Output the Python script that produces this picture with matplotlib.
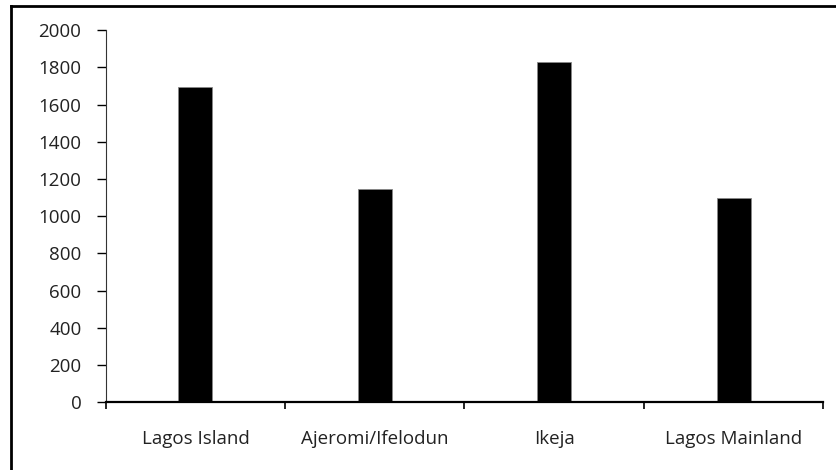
import matplotlib
matplotlib.use('Agg')
import matplotlib.pyplot as plt
from matplotlib.lines import Line2D
import numpy as np

districts = ['Lagos Island', 'Ajeromi/Ifelodun', 'Ikeja', 'Lagos Mainland']
counts = [1695, 1146, 1828, 1097]
y_ticks = [0, 200, 400, 600, 800, 1000, 1200, 1400, 1600, 1800, 2000]

plt.rcParams['font.family'] = ['Open Sans', 'DejaVu Sans']

fig = plt.figure(figsize=(8.37, 4.70), dpi=100)
ax = fig.add_axes([0.1263, 0.144, 0.8573, 0.792])

x = np.arange(len(districts))
ax.bar(x, counts, width=0.19, color='black', edgecolor='#888888', linewidth=0.6)

ax.set_xlim(-0.5, len(districts) - 0.5)
ax.set_ylim(0, 2000)
ax.set_yticks(y_ticks)
ax.set_yticklabels([str(v) for v in y_ticks])

# category boundaries get the ticks, centers get the labels
ax.set_xticks(np.arange(len(districts) + 1) - 0.5)
ax.set_xticklabels([])
ax.set_xticks(x, minor=True)
ax.set_xticklabels(districts, minor=True)

ax.tick_params(axis='y', which='major', direction='out', length=6.5, width=1,
               pad=11, labelsize=13.5, labelcolor='#222222')
ax.tick_params(axis='x', which='major', direction='out', length=5, width=1.2)
ax.tick_params(axis='x', which='minor', length=0, pad=20, labelsize=13.5,
               labelcolor='#222222')

for side in ['top', 'right']:
    ax.spines[side].set_visible(False)
ax.spines['left'].set_linewidth(0.8)
ax.spines['left'].set_color('#333333')
ax.spines['bottom'].set_linewidth(1.6)

# frame around the chart (only left and top survive the crop)
fig.add_artist(Line2D([0.0131, 0.0131], [0.0, 0.987], color='black', lw=2.0))
fig.add_artist(Line2D([0.0131, 1.0], [0.987, 0.987], color='black', lw=2.0))

fig.savefig('out.png', dpi=100)
